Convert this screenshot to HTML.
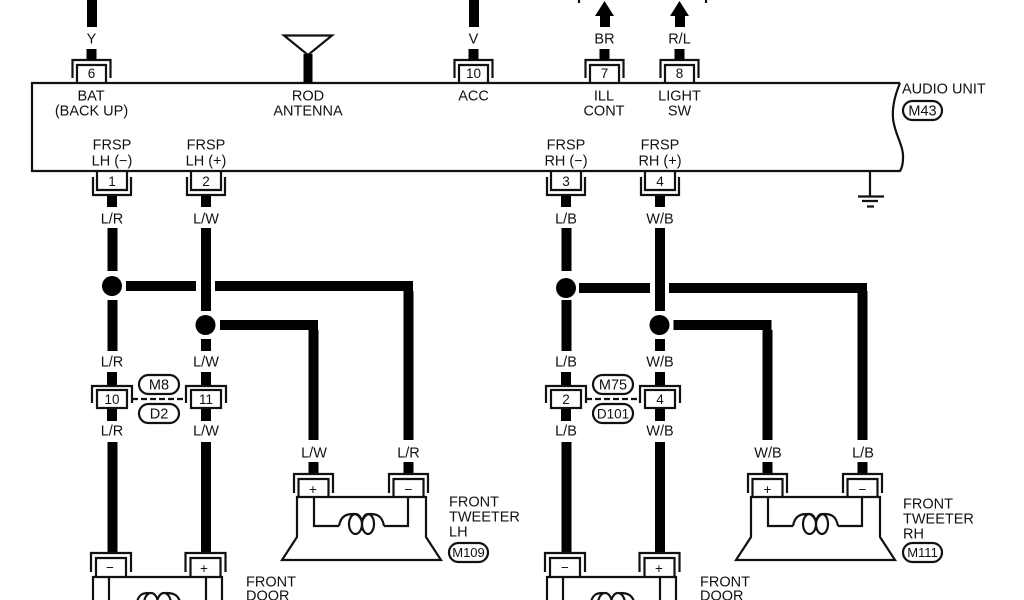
<!DOCTYPE html>
<html><head><meta charset="utf-8"><style>
html,body{margin:0;padding:0;background:#fff;width:1024px;height:600px;overflow:hidden}
svg{display:block;filter:blur(.35px)}
text{font-family:"Liberation Sans",sans-serif;font-size:14.5px;fill:#111}
.m{text-anchor:middle}
.n{font-size:13.5px;text-anchor:middle}
.l{fill:none;stroke:#111;stroke-width:2.2}
.d{fill:#000}
</style></head><body>
<svg width="1024" height="600" viewBox="0 0 1024 600" xmlns="http://www.w3.org/2000/svg">
<defs>
<g id="ct"><path class="l" d="M-19,78V60H19V78M-14.500,83V65H14.500V83"/><rect class="d" x="-5" y="49" width="10" height="11"/></g>
<g id="cb"><path class="l" d="M-19,177V195H19V177M-15,171V190H15V171"/><rect class="d" x="-5" y="196" width="10" height="11"/></g>
<g id="ci"><path class="l" d="M-20,403V386H20V403"/><rect x="-15" y="390" width="30" height="18" fill="#fff" stroke="#111" stroke-width="2.2"/><rect class="d" x="-5" y="372" width="10" height="13"/><rect class="d" x="-5" y="409" width="10" height="12"/></g>
<g id="cs"><path class="l" d="M-19.500,493V474H19.500V493M-15,497V479H15V497"/><rect class="d" x="-5" y="462" width="10" height="11"/></g>
<g id="cd"><path class="l" d="M-20,572V553H20V572M-15,577V558H15V577"/></g>
<g id="coil"><path class="l" d="M339,526C341,514 349,514 354,514C358,514 361,518 362,522C363,518 366,514 370,514C376,514 382,515 384,526"/><ellipse class="l" cx="355.500" cy="524" rx="6.500" ry="10"/><ellipse class="l" cx="368" cy="524" rx="6" ry="10"/></g>
<g id="tw"><path class="l" d="M297,497H426V537L441,560H282L297,537Z"/><path class="l" d="M314,497V526H339M384,526H408V497"/><use href="#coil"/></g>
<g id="lh">
<rect class="d" x="107.500" y="228" width="10" height="43"/>
<rect class="d" x="107.500" y="300" width="10" height="51"/>
<rect class="d" x="201" y="228" width="10" height="83"/>
<rect class="d" x="201" y="339" width="10" height="12"/>
<rect class="d" x="107.500" y="442" width="10" height="111"/>
<rect class="d" x="201" y="442" width="10" height="111"/>
<use href="#cb" x="112"/><use href="#cb" x="206"/>
<use href="#ci" x="112"/><use href="#ci" x="206"/>
<use href="#cd" x="111"/><use href="#cd" x="205.500"/>
<path class="l" d="M93,600V577H222V600M109,577V600M206,577V600"/>
<ellipse class="l" cx="151" cy="604" rx="7" ry="11"/><ellipse class="l" cx="164" cy="604" rx="7" ry="11"/>
<path class="l" d="M137,602C139,594 143,593 149,593M166,593C172,593 178,594 180,602"/>
<use href="#cs" x="313.500"/><use href="#cs" x="408.500"/>
<use href="#tw"/>
<path class="l" d="M132,399H186" stroke-dasharray="6 3"/>
<rect class="d" x="308.500" y="330" width="10" height="110"/>
<rect class="d" x="403.500" y="291" width="10" height="149"/>
</g>
</defs>

<!-- audio unit -->
<path class="l" d="M900,83H32V171H900C902,168 903,164 903,158C904,146 894,133 893,118C892,106 895,95 900,83"/>

<!-- top connectors -->
<use href="#ct" x="91.500"/><use href="#ct" x="473.500"/><use href="#ct" x="604.500"/><use href="#ct" x="679.500"/>
<rect class="d" x="87" y="0" width="10" height="27"/>
<rect class="d" x="469" y="0" width="10" height="27"/>
<path class="d" d="M600,27V16H595L604.500,1L614,16H610V27Z"/>
<path class="d" d="M675,27V16H670L679.500,1L689,16H685V27Z"/>
<path class="l" d="M579,0V3M706,0V3"/>

<!-- antenna -->
<path class="l" d="M284,35.500H332L308,55Z"/>
<rect class="d" x="303.500" y="54" width="9" height="29"/>

<!-- ground -->
<path class="l" d="M870,171V196M858,196.500H884M862,201H878"/><path class="l" d="M867,206.500H874"/>

<!-- horizontal wires LH -->
<rect class="d" x="126" y="281" width="70" height="10"/>
<path class="d" d="M215,281H413V440H404V291H215Z"/>
<circle class="d" cx="112" cy="286" r="10"/>
<path class="d" d="M220,320H318V330H220Z"/>
<circle class="d" cx="205.500" cy="325" r="10"/>

<use href="#lh"/>

<!-- RH -->
<use href="#lh" x="454"/>
<rect class="d" x="579" y="283" width="71" height="10"/>
<path class="d" d="M669,283H867V293H669Z"/>
<circle class="d" cx="566" cy="288" r="10"/>
<rect class="d" x="673.500" y="320" width="98" height="10"/>
<circle class="d" cx="659.500" cy="325" r="10"/>

<!-- pills -->
<rect class="l" x="139" y="375" width="40" height="19" rx="9.500"/>
<rect class="l" x="139" y="404" width="40" height="19" rx="9.500"/>
<rect class="l" x="593" y="375" width="40" height="19" rx="9.500"/>
<rect class="l" x="593" y="404" width="40" height="19" rx="9.500"/>
<rect class="l" x="449" y="543" width="39" height="19" rx="9.500"/>
<rect class="l" x="903" y="543" width="39" height="19" rx="9.500"/>
<rect class="l" x="903" y="101" width="39" height="19" rx="9.500"/>

<!-- pin numbers -->
<text class="n" x="91.500" y="78">6</text><text class="n" x="473.500" y="78">10</text><text class="n" x="604.500" y="78">7</text><text class="n" x="679.500" y="78">8</text>
<text class="n" x="112" y="186">1</text><text class="n" x="206" y="186">2</text><text class="n" x="566" y="186">3</text><text class="n" x="660" y="186">4</text>
<text class="n" x="112" y="404">10</text><text class="n" x="206" y="404">11</text><text class="n" x="566" y="404">2</text><text class="n" x="660" y="404">4</text>
<text class="n" x="110" y="572">−</text><text class="n" x="204" y="573">+</text><text class="n" x="565" y="572">−</text><text class="n" x="659" y="573">+</text>
<text class="n" x="313" y="494">+</text><text class="n" x="408.500" y="494">−</text><text class="n" x="767.500" y="494">+</text><text class="n" x="862.500" y="494">−</text>

<!-- wire labels -->
<text class="m" x="91.500" y="43.500">Y</text><text class="m" x="473.500" y="43.500">V</text><text class="m" x="604.500" y="43.500">BR</text><text class="m" x="679.500" y="43.500">R/L</text>
<text class="m" x="112" y="223.500">L/R</text><text class="m" x="206" y="223.500">L/W</text><text class="m" x="566" y="223.500">L/B</text><text class="m" x="660" y="223.500">W/B</text>
<text class="m" x="112" y="366.500">L/R</text><text class="m" x="206" y="366.500">L/W</text><text class="m" x="566" y="366.500">L/B</text><text class="m" x="660" y="366.500">W/B</text>
<text class="m" x="112" y="435.500">L/R</text><text class="m" x="206" y="435.500">L/W</text><text class="m" x="566" y="435.500">L/B</text><text class="m" x="660" y="435.500">W/B</text>
<text class="m" x="314" y="457.500">L/W</text><text class="m" x="408.500" y="457.500">L/R</text><text class="m" x="768" y="457.500">W/B</text><text class="m" x="863" y="457.500">L/B</text>

<!-- unit labels -->
<text class="m" x="91" y="100.500">BAT</text><text class="m" x="91.500" y="115.500">(BACK UP)</text>
<text class="m" x="308" y="100.500">ROD</text><text class="m" x="308" y="115.500">ANTENNA</text>
<text class="m" x="473.500" y="100.500">ACC</text>
<text class="m" x="604" y="100.500">ILL</text><text class="m" x="604" y="115.500">CONT</text>
<text class="m" x="679.500" y="100.500">LIGHT</text><text class="m" x="679.500" y="115.500">SW</text>
<text class="m" x="112" y="149.500">FRSP</text><text class="m" x="112" y="165.500">LH (−)</text>
<text class="m" x="206" y="149.500">FRSP</text><text class="m" x="206" y="165.500">LH (+)</text>
<text class="m" x="566" y="149.500">FRSP</text><text class="m" x="566" y="165.500">RH (−)</text>
<text class="m" x="660" y="149.500">FRSP</text><text class="m" x="660" y="165.500">RH (+)</text>
<text x="902" y="93.500">AUDIO UNIT</text>
<text class="m" x="922.500" y="115.500">M43</text>
<text class="m" x="159" y="389.500">M8</text><text class="m" x="159" y="418.500">D2</text>
<text class="m" x="613" y="389.500">M75</text><text class="m" x="613" y="418.500" style="font-size:13.5px">D101</text>
<text x="449" y="506.500">FRONT</text><text x="449" y="521.500">TWEETER</text><text x="449" y="536.500">LH</text>
<text class="m" x="468.500" y="557" style="font-size:13px">M109</text>
<text x="903" y="508.500">FRONT</text><text x="903" y="523.500">TWEETER</text><text x="903" y="538.500">RH</text>
<text class="m" x="922.500" y="557" style="font-size:13px">M111</text>
<text x="246" y="586.500">FRONT</text><text x="246" y="600.500">DOOR</text>
<text x="700" y="586.500">FRONT</text><text x="700" y="600.500">DOOR</text>
</svg>
</body></html>
